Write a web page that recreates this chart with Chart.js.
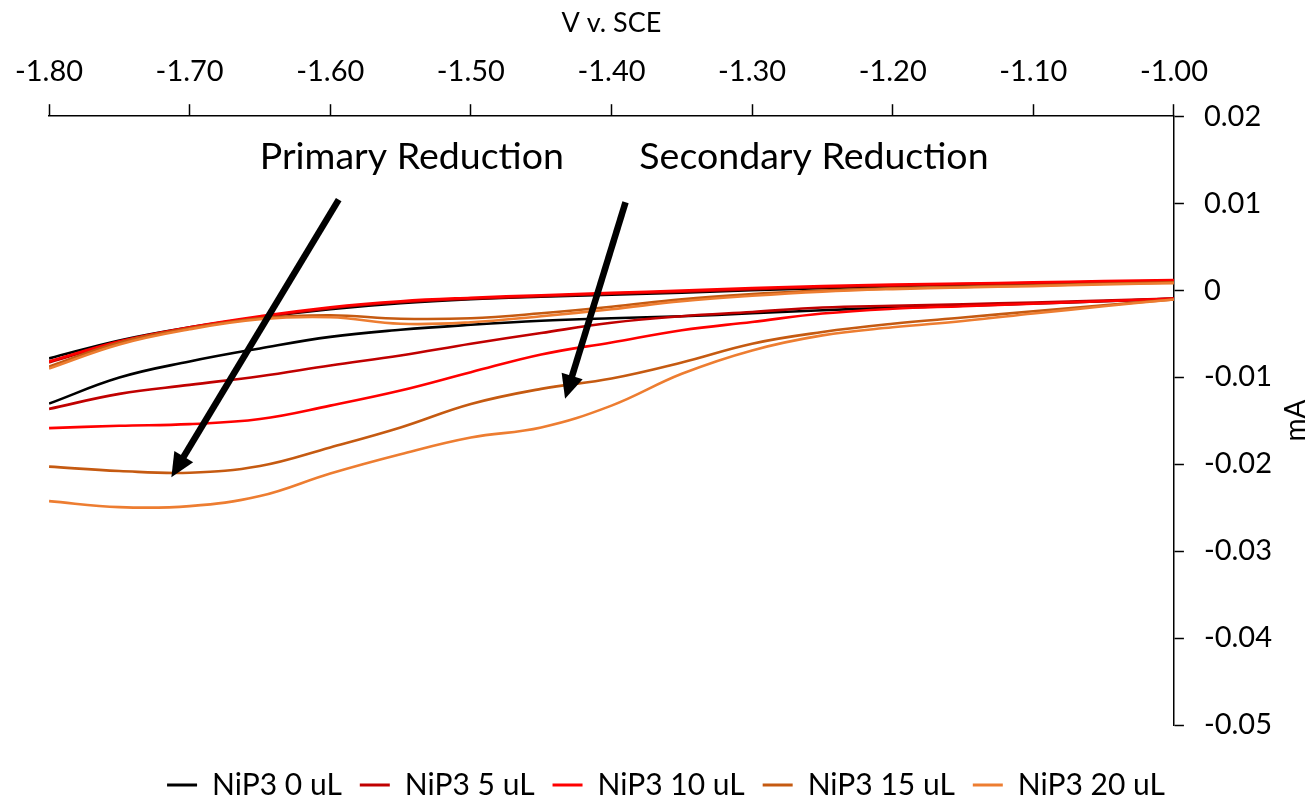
<!DOCTYPE html>
<html>
<head>
<meta charset="utf-8">
<title>NiP3 CV</title>
<script src="https://cdn.jsdelivr.net/npm/chart.js@4.4.1/dist/chart.umd.min.js"></script>
<style>
  html, body { margin: 0; padding: 0; background: #fff; }
  canvas { display: block; }
</style>
</head>
<body>
<canvas id="cv" width="1311" height="802"></canvas>
<script>
// --- DATA (mA vs V v. SCE) ---
const voltage = [-1.80, -1.75, -1.70, -1.65, -1.60, -1.55, -1.50, -1.45, -1.40,
                 -1.35, -1.30, -1.25, -1.20, -1.15, -1.10, -1.05, -1.00];

const seriesNames = ['NiP3 0 uL', 'NiP3 5 uL', 'NiP3 10 uL', 'NiP3 15 uL', 'NiP3 20 uL'];
const seriesColors = ['#000000', '#C00000', '#FF0000', '#C55A11', '#ED7D31'];

// lower branch (cathodic scan) and upper branch (return scan), same voltage grid
const nip0Cathodic  = [-0.01305, -0.01005, -0.00820, -0.00670, -0.00537, -0.00456, -0.00398, -0.00352, -0.00323, -0.00300, -0.00266, -0.00231, -0.00202, -0.00179, -0.00154, -0.00127, -0.00098];
const nip0Anodic    = [-0.00785, -0.00578, -0.00427, -0.00312, -0.00219, -0.00150, -0.00104, -0.00075, -0.00052, -0.00029, 0.00000, 0.00023, 0.00046, 0.00064, 0.00075, 0.00087, 0.00098];
const nip5Cathodic  = [-0.01366, -0.01193, -0.01089, -0.00990, -0.00866, -0.00751, -0.00616, -0.00493, -0.00375, -0.00300, -0.00251, -0.00200, -0.00179, -0.00162, -0.00142, -0.00121, -0.00096];
const nip5Anodic    = [-0.00832, -0.00601, -0.00439, -0.00312, -0.00208, -0.00139, -0.00098, -0.00069, -0.00040, -0.00017, 0.00012, 0.00035, 0.00052, 0.00069, 0.00081, 0.00095, 0.00106];
const nip10Cathodic = [-0.01586, -0.01559, -0.01540, -0.01482, -0.01328, -0.01155, -0.00944, -0.00739, -0.00601, -0.00462, -0.00366, -0.00269, -0.00214, -0.00185, -0.00156, -0.00127, -0.00098];
const nip10Anodic   = [-0.00820, -0.00589, -0.00427, -0.00300, -0.00196, -0.00127, -0.00087, -0.00058, -0.00031, -0.00006, 0.00023, 0.00046, 0.00064, 0.00077, 0.00089, 0.00104, 0.00116];
const nip15Cathodic = [-0.02029, -0.02079, -0.02099, -0.02021, -0.01808, -0.01579, -0.01309, -0.01135, -0.01016, -0.00832, -0.00616, -0.00482, -0.00387, -0.00315, -0.00243, -0.00173, -0.00107];
const nip15Anodic   = [-0.00878, -0.00601, -0.00439, -0.00323, -0.00289, -0.00329, -0.00323, -0.00266, -0.00191, -0.00104, -0.00046, -0.00006, 0.00020, 0.00038, 0.00054, 0.00073, 0.00089];
const nip20Cathodic = [-0.02426, -0.02495, -0.02483, -0.02368, -0.02108, -0.01886, -0.01694, -0.01579, -0.01328, -0.00962, -0.00693, -0.00520, -0.00427, -0.00355, -0.00269, -0.00185, -0.00107];
const nip20Anodic   = [-0.00901, -0.00624, -0.00450, -0.00335, -0.00312, -0.00387, -0.00370, -0.00300, -0.00219, -0.00127, -0.00064, -0.00017, 0.00012, 0.00031, 0.00046, 0.00066, 0.00081];

const cathodic = [nip0Cathodic, nip5Cathodic, nip10Cathodic, nip15Cathodic, nip20Cathodic];
const anodic   = [nip0Anodic, nip5Anodic, nip10Anodic, nip15Anodic, nip20Anodic];

// annotation arrows, in data coordinates (V, mA)
const arrowLabels = ['Primary Reduction', 'Secondary Reduction'];
const arrowTextAt = [[-1.542, 0.0153], [-1.256, 0.0153]];
const arrowFrom   = [[-1.594, 0.0104], [-1.390, 0.0101]];
const arrowTo     = [[-1.713, -0.0215], [-1.433, -0.0125]];

// --- BUILD DATASETS ---
function branchPoints(values) {
    return voltage.map((v, i) => ({ x: v, y: values[i] }));
}

const datasets = seriesNames.map((name, i) => ({
    label: name,
    // gap point between the two branches so the loop is not closed at -1.80
    data: [...branchPoints(cathodic[i]), { x: -1.00, y: null }, ...branchPoints(anodic[i])],
    borderColor: seriesColors[i],
    backgroundColor: seriesColors[i],
    borderWidth: 2.6,
    showLine: true,
    pointRadius: 0,
    tension: 0.4,
    spanGaps: false,
    order: seriesNames.length - i   // later series drawn on top, like the original
}));

// --- PLUGINS ---
const annotations = {
    id: 'annotations',
    afterDatasetsDraw(chart) {
        const { ctx, scales: { x, y } } = chart;
        ctx.save();
        ctx.fillStyle = '#000';
        ctx.strokeStyle = '#000';
        ctx.font = '37.5px Lato, Carlito, sans-serif';
        ctx.textAlign = 'center';
        ctx.textBaseline = 'middle';
        arrowLabels.forEach((txt, i) => {
            ctx.fillText(txt, x.getPixelForValue(arrowTextAt[i][0]), y.getPixelForValue(arrowTextAt[i][1]));

            const x0 = x.getPixelForValue(arrowFrom[i][0]), y0 = y.getPixelForValue(arrowFrom[i][1]);
            const x1 = x.getPixelForValue(arrowTo[i][0]),   y1 = y.getPixelForValue(arrowTo[i][1]);
            const ang = Math.atan2(y1 - y0, x1 - x0);
            const headLen = 24, headHalf = 11;
            const bx = x1 - headLen * Math.cos(ang), by = y1 - headLen * Math.sin(ang);

            ctx.lineWidth = 6.5;
            ctx.lineCap = 'butt';
            ctx.beginPath();
            ctx.moveTo(x0, y0);
            ctx.lineTo(bx + 2 * Math.cos(ang), by + 2 * Math.sin(ang));
            ctx.stroke();

            ctx.beginPath();
            ctx.moveTo(x1, y1);
            ctx.lineTo(bx + headHalf * Math.sin(ang), by - headHalf * Math.cos(ang));
            ctx.lineTo(bx - headHalf * Math.sin(ang), by + headHalf * Math.cos(ang));
            ctx.closePath();
            ctx.fill();
        });
        ctx.restore();
    },
    afterDraw(chart) {
        // y title reads bottom-to-top, as in the original
        const { ctx, chartArea } = chart;
        ctx.save();
        ctx.fillStyle = '#000';
        ctx.font = '28px Lato, Carlito, sans-serif';
        ctx.textAlign = 'center';
        ctx.textBaseline = 'middle';
        ctx.translate(chartArea.right + 122, (chartArea.top + chartArea.bottom) / 2);
        ctx.rotate(-Math.PI / 2);
        ctx.fillText('mA', 0, 0);
        ctx.restore();
    }
};

// --- CHART ---
Chart.defaults.font.family = 'Lato, Carlito, sans-serif';
Chart.defaults.color = '#000';

new Chart(document.getElementById('cv'), {
    type: 'scatter',
    data: { datasets },
    plugins: [annotations],
    options: {
        responsive: false,
        animation: false,
        layout: { padding: { left: 40, right: 19, top: 7, bottom: -8 } },
        scales: {
            x: {
                type: 'linear',
                position: 'top',
                min: -1.8,
                max: -1.0,
                ticks: {
                    stepSize: 0.1,
                    font: { size: 29 },
                    padding: 15,
                    callback: v => v.toFixed(2)
                },
                grid: { drawOnChartArea: false, tickLength: 12, tickColor: '#000', tickWidth: 1.5 },
                border: { color: '#000', width: 1.5 },
                title: { display: true, text: 'V v. SCE', font: { size: 27 }, padding: { top: 0, bottom: 0 } }
            },
            y: {
                position: 'right',
                min: -0.05,
                max: 0.02,
                ticks: {
                    stepSize: 0.01,
                    font: { size: 29 },
                    padding: 20,
                    callback: v => Math.abs(v) < 1e-9 ? '0' : v.toFixed(2)
                },
                grid: { drawOnChartArea: false, tickLength: 10, tickColor: '#000', tickWidth: 1.5 },
                border: { color: '#000', width: 1.5 }
            }
        },
        plugins: {
            tooltip: { enabled: false },
            legend: {
                position: 'bottom',
                // empty title only adds a little space above the legend row
                title: { display: true, text: ' ', font: { size: 10 }, padding: { top: 0, bottom: 15 } },
                labels: {
                    boxWidth: 30,
                    boxHeight: 3,
                    padding: 18,
                    font: { size: 30 },
                    generateLabels(chart) {
                        const items = Chart.defaults.plugins.legend.labels.generateLabels(chart);
                        items.sort((a, b) => a.datasetIndex - b.datasetIndex);
                        return items.map(it => Object.assign(it, { lineWidth: 0 }));
                    }
                }
            }
        }
    }
});
</script>
</body>
</html>
